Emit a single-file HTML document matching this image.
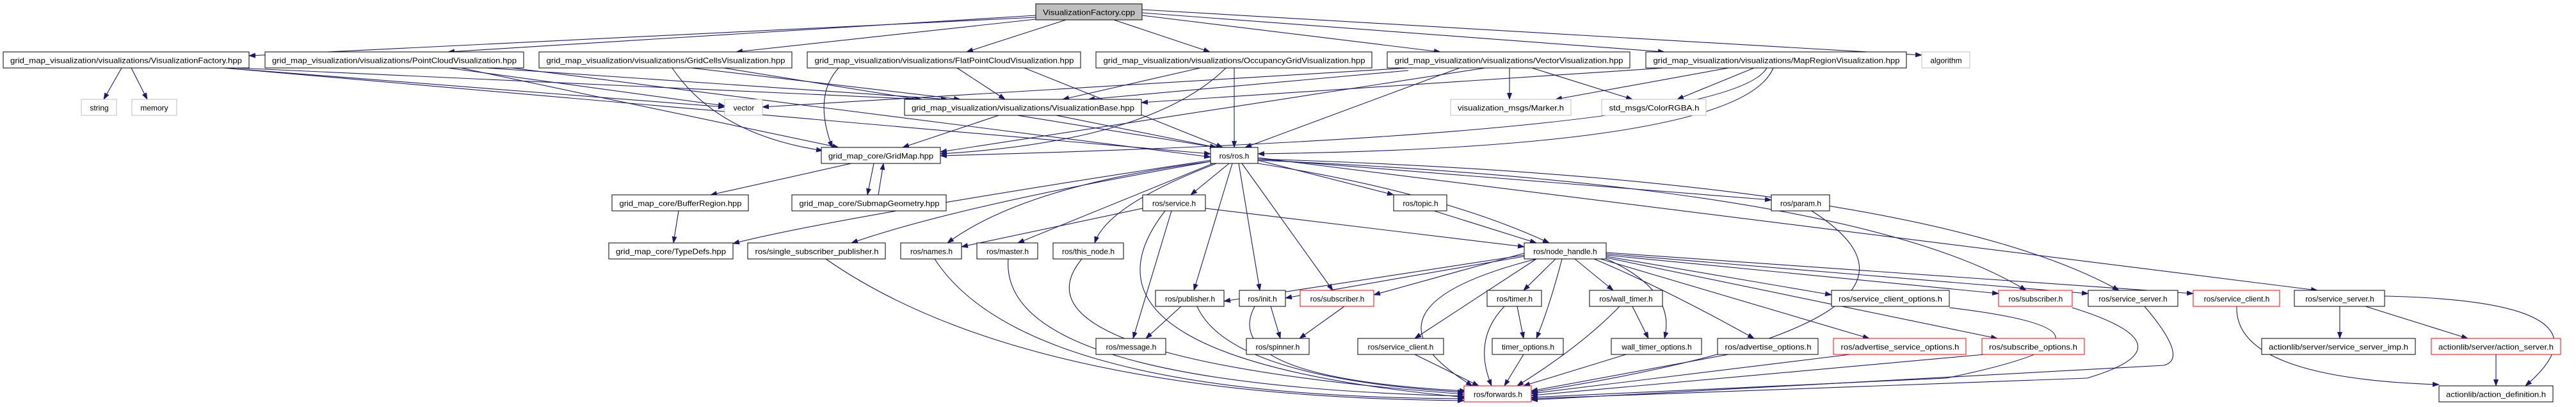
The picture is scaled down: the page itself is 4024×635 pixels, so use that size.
<!DOCTYPE html>
<html><head><meta charset="utf-8"><style>
html,body{margin:0;padding:0;background:#fff;width:4024px;height:635px;overflow:hidden}
svg{display:block}
.e{fill:none;stroke:#191970;stroke-width:1.1}
text{font-family:"Liberation Sans",sans-serif;font-size:12px;fill:#000;text-anchor:middle}
.n{fill:#fff;stroke:#000;stroke-width:1}
.g{fill:#fff;stroke:#bfbfbf;stroke-width:1}
.r{fill:#fff;stroke:#ff0000;stroke-width:1}
</style></head><body>
<svg width="4024" height="635" viewBox="0 0 4024 635" xmlns="http://www.w3.org/2000/svg">
<defs><marker id="a" markerWidth="11" markerHeight="8" refX="10" refY="4" orient="auto" markerUnits="userSpaceOnUse"><path d="M0,0 L11,4 L0,8 Z" fill="#191970"/></marker></defs>
<g class="e" marker-end="url(#a)">
<path d="M1618,27 L389,87"/><path d="M1618,24 L700,81"/><path d="M1618,30 L1150,81"/><path d="M1665,31 L1510,81"/>
<path d="M1740,31 L1890,81"/><path d="M1784,24 L2250,81"/><path d="M1784,20 L2600,81"/><path d="M1784,15 L3002,86"/>
<path d="M190,106 L162,155"/><path d="M205,106 L230,155"/><path d="M350,106 L1132,167"/><path d="M370,106 L1440,155"/><path d="M350,106 L1891,240"/>
<path d="M700,106 L1132,165"/><path d="M760,106 L1480,155"/><path d="M720,106 L1310,230"/><path d="M800,106 L1891,245"/>
<path d="M1050,106 Q1120,210 1285,235"/><path d="M1080,106 L1500,155"/><path d="M1130,106 L1900,230"/>
<path d="M1495,106 L1570,155"/><path d="M1310,106 Q1270,150 1300,230"/><path d="M1600,106 L1910,230"/>
<path d="M1875,106 L1660,155"/><path d="M1915,106 Q1800,220 1469,240"/><path d="M1928,106 L1928,230"/>
<path d="M2200,110 L1700,155"/><path d="M2320,106 L1469,237"/><path d="M2280,106 L1945,230"/><path d="M2358,106 L2358,155"/><path d="M2393,106 L2550,155"/><path d="M2200,106 L1191,167"/>
<path d="M2600,106 L1783,160"/><path d="M2760,106 Q2700,210 1469,243"/><path d="M2770,106 Q2720,230 1965,240"/><path d="M2700,106 L2430,155"/><path d="M2740,106 L2620,155"/>
<path d="M1560,180 L1410,230"/><path d="M1650,180 L1900,230"/>
<path d="M1330,255 L1110,304"/><path d="M1365,255 L1355,304"/><path d="M1372,304 L1380,255"/>
<path d="M1060,329 L1052,379"/>
<path d="M1920,255 L1860,304"/><path d="M1891,252 Q1600,290 1480,379"/><path d="M1895,255 L1590,379"/><path d="M1900,255 Q1730,320 1710,379"/>
<path d="M1925,255 L1865,453"/><path d="M1935,255 L1968,453"/><path d="M1940,255 L2082,453"/><path d="M1965,250 L2177,304"/>
<path d="M1965,255 Q2250,300 2420,379"/><path d="M1965,248 L2767,312"/><path d="M1965,250 Q2900,290 3165,453"/><path d="M1965,248 Q3000,280 3310,453"/><path d="M1965,246 L3620,453"/>
<path d="M1891,250 Q1300,340 1145,380"/><path d="M1891,252 Q1500,320 1330,379"/>
<path d="M1785,325 L1502,385"/><path d="M1830,329 L1770,528"/><path d="M1820,329 Q1640,560 2290,620"/><path d="M1883,325 L2381,385"/>
<path d="M2240,329 L2400,379"/>
<path d="M1460,404 Q1600,620 2287,622"/><path d="M1575,404 Q1560,600 2287,618"/><path d="M1690,404 Q1560,560 2287,615"/><path d="M1290,404 Q1600,620 2287,625"/><path d="M2830,329 Q3100,500 2392,612"/>
<path d="M2381,395 L2146,460"/><path d="M2430,404 L2380,453"/><path d="M2440,404 Q2420,480 2400,528"/><path d="M2460,404 L2520,453"/><path d="M2500,400 Q2620,450 2600,528"/>
<path d="M2400,404 L2210,528"/><path d="M2490,404 Q2600,450 2740,528"/><path d="M2500,404 L2920,528"/><path d="M2509,402 L3120,528"/><path d="M2509,400 L2861,460"/>
<path d="M2509,398 L3122,458"/><path d="M2509,396 L3262,458"/><path d="M2509,394 L3426,458"/><path d="M2381,398 L1912,470"/><path d="M2381,400 L2008,465"/><path d="M2400,404 Q2100,480 2300,602"/>
<path d="M1845,478 L1790,528"/><path d="M1870,478 Q1920,590 2287,612"/><path d="M1985,478 L2000,528"/><path d="M1960,478 Q1900,590 2290,610"/><path d="M2100,478 L2030,528"/>
<path d="M2370,478 L2380,528"/><path d="M2350,478 Q2300,530 2330,602"/><path d="M2550,478 L2575,528"/><path d="M2530,478 Q2470,540 2370,602"/>
<path d="M2380,553 L2350,602"/><path d="M2540,553 L2380,602"/><path d="M2210,553 L2310,602"/><path d="M2700,553 L2392,610"/><path d="M2890,553 L2392,614"/><path d="M3100,553 L2392,617"/>
<path d="M3045,480 Q3380,520 3040,590 L2392,620"/><path d="M3237,480 Q3430,540 3260,590 L2392,622"/><path d="M3350,478 Q3420,560 3380,570 L2392,624"/>
<path d="M3655,478 L3655,528"/><path d="M3695,478 L3855,528"/><path d="M3725,462 Q4100,470 3945,602"/><path d="M3494,478 Q3490,590 3810,600"/><path d="M3899,553 L3899,602"/>
</g>
<g>
<rect x="1618" y="6" width="166" height="25" fill="#bfbfbf" stroke="#000"/><text x="1701" y="23.5" textLength="144" lengthAdjust="spacingAndGlyphs">VisualizationFactory.cpp</text>
<rect class="n" x="5" y="81" width="384" height="25"/><text x="197" y="98.5" textLength="362" lengthAdjust="spacingAndGlyphs">grid_map_visualization/visualizations/VisualizationFactory.hpp</text>
<rect class="n" x="414" y="81" width="404" height="25"/><text x="616" y="98.5" textLength="382" lengthAdjust="spacingAndGlyphs">grid_map_visualization/visualizations/PointCloudVisualization.hpp</text>
<rect class="n" x="842" y="81" width="395" height="25"/><text x="1040" y="98.5" textLength="373" lengthAdjust="spacingAndGlyphs">grid_map_visualization/visualizations/GridCellsVisualization.hpp</text>
<rect class="n" x="1261" y="81" width="427" height="25"/><text x="1475" y="98.5" textLength="405" lengthAdjust="spacingAndGlyphs">grid_map_visualization/visualizations/FlatPointCloudVisualization.hpp</text>
<rect class="n" x="1712" y="81" width="431" height="25"/><text x="1928" y="98.5" textLength="409" lengthAdjust="spacingAndGlyphs">grid_map_visualization/visualizations/OccupancyGridVisualization.hpp</text>
<rect class="n" x="2167" y="81" width="379" height="25"/><text x="2357" y="98.5" textLength="357" lengthAdjust="spacingAndGlyphs">grid_map_visualization/visualizations/VectorVisualization.hpp</text>
<rect class="n" x="2571" y="81" width="407" height="25"/><text x="2775" y="98.5" textLength="385" lengthAdjust="spacingAndGlyphs">grid_map_visualization/visualizations/MapRegionVisualization.hpp</text>
<rect class="g" x="3002" y="81" width="75" height="25"/><text x="3040" y="98.5">algorithm</text>
<rect class="g" x="127" y="155" width="55" height="25"/><text x="155" y="172.5">string</text>
<rect class="g" x="206" y="155" width="70" height="25"/><text x="241" y="172.5">memory</text>
<rect class="g" x="1132" y="155" width="59" height="25"/><text x="1162" y="172.5">vector</text>
<rect class="n" x="1413" y="155" width="370" height="25"/><text x="1598" y="172.5" textLength="348" lengthAdjust="spacingAndGlyphs">grid_map_visualization/visualizations/VisualizationBase.hpp</text>
<rect class="g" x="2266" y="155" width="188" height="25"/><text x="2360" y="172.5" textLength="166" lengthAdjust="spacingAndGlyphs">visualization_msgs/Marker.h</text>
<rect class="g" x="2502" y="155" width="163" height="25"/><text x="2584" y="172.5" textLength="141" lengthAdjust="spacingAndGlyphs">std_msgs/ColorRGBA.h</text>
<rect class="n" x="1283" y="230" width="186" height="25"/><text x="1376" y="247.5" textLength="164" lengthAdjust="spacingAndGlyphs">grid_map_core/GridMap.hpp</text>
<rect class="n" x="1891" y="230" width="74" height="25"/><text x="1928" y="247.5">ros/ros.h</text>
<rect class="n" x="956" y="304" width="213" height="25"/><text x="1063" y="321.5" textLength="191" lengthAdjust="spacingAndGlyphs">grid_map_core/BufferRegion.hpp</text>
<rect class="n" x="1237" y="304" width="241" height="25"/><text x="1358" y="321.5" textLength="219" lengthAdjust="spacingAndGlyphs">grid_map_core/SubmapGeometry.hpp</text>
<rect class="n" x="1785" y="304" width="98" height="25"/><text x="1834" y="321.5">ros/service.h</text>
<rect class="n" x="2177" y="304" width="83" height="25"/><text x="2219" y="321.5">ros/topic.h</text>
<rect class="n" x="2767" y="304" width="91" height="25"/><text x="2813" y="321.5">ros/param.h</text>
<rect class="n" x="951" y="379" width="194" height="25"/><text x="1048" y="396.5" textLength="172" lengthAdjust="spacingAndGlyphs">grid_map_core/TypeDefs.hpp</text>
<rect class="n" x="1168" y="379" width="215" height="25"/><text x="1276" y="396.5" textLength="193" lengthAdjust="spacingAndGlyphs">ros/single_subscriber_publisher.h</text>
<rect class="n" x="1407" y="379" width="95" height="25"/><text x="1455" y="396.5">ros/names.h</text>
<rect class="n" x="1526" y="379" width="95" height="25"/><text x="1574" y="396.5">ros/master.h</text>
<rect class="n" x="1645" y="379" width="110" height="25"/><text x="1700" y="396.5">ros/this_node.h</text>
<rect class="n" x="2381" y="379" width="128" height="25"/><text x="2445" y="396.5">ros/node_handle.h</text>
<rect class="n" x="1805" y="453" width="107" height="25"/><text x="1859" y="470.5">ros/publisher.h</text>
<rect class="n" x="1936" y="453" width="72" height="25"/><text x="1972" y="470.5">ros/init.h</text>
<rect class="r" x="2031" y="453" width="115" height="25"/><text x="2089" y="470.5">ros/subscriber.h</text>
<rect class="n" x="2323" y="453" width="85" height="25"/><text x="2366" y="470.5">ros/timer.h</text>
<rect class="n" x="2483" y="453" width="114" height="25"/><text x="2540" y="470.5">ros/wall_timer.h</text>
<rect class="n" x="2861" y="453" width="184" height="25"/><text x="2953" y="470.5" textLength="162" lengthAdjust="spacingAndGlyphs">ros/service_client_options.h</text>
<rect class="r" x="3122" y="453" width="115" height="25"/><text x="3180" y="470.5">ros/subscriber.h</text>
<rect class="n" x="3262" y="453" width="140" height="25"/><text x="3332" y="470.5">ros/service_server.h</text>
<rect class="r" x="3426" y="453" width="135" height="25"/><text x="3494" y="470.5">ros/service_client.h</text>
<rect class="n" x="3584" y="453" width="141" height="25"/><text x="3655" y="470.5">ros/service_server.h</text>
<rect class="n" x="1712" y="528" width="109" height="25"/><text x="1767" y="545.5">ros/message.h</text>
<rect class="n" x="1947" y="528" width="98" height="25"/><text x="1996" y="545.5">ros/spinner.h</text>
<rect class="n" x="2121" y="528" width="134" height="25"/><text x="2188" y="545.5">ros/service_client.h</text>
<rect class="n" x="2331" y="528" width="111" height="25"/><text x="2387" y="545.5">timer_options.h</text>
<rect class="n" x="2517" y="528" width="141" height="25"/><text x="2588" y="545.5">wall_timer_options.h</text>
<rect class="n" x="2683" y="528" width="157" height="25"/><text x="2762" y="545.5" textLength="135" lengthAdjust="spacingAndGlyphs">ros/advertise_options.h</text>
<rect class="r" x="2864" y="528" width="207" height="25"/><text x="2968" y="545.5" textLength="185" lengthAdjust="spacingAndGlyphs">ros/advertise_service_options.h</text>
<rect class="r" x="3096" y="528" width="160" height="25"/><text x="3176" y="545.5" textLength="138" lengthAdjust="spacingAndGlyphs">ros/subscribe_options.h</text>
<rect class="n" x="3533" y="528" width="240" height="25"/><text x="3653" y="545.5" textLength="218" lengthAdjust="spacingAndGlyphs">actionlib/server/service_server_imp.h</text>
<rect class="r" x="3798" y="528" width="202" height="25"/><text x="3899" y="545.5" textLength="180" lengthAdjust="spacingAndGlyphs">actionlib/server/action_server.h</text>
<rect class="r" x="2287" y="602" width="105" height="25"/><text x="2340" y="619.5">ros/forwards.h</text>
<rect class="n" x="3810" y="602" width="178" height="25"/><text x="3899" y="619.5" textLength="156" lengthAdjust="spacingAndGlyphs">actionlib/action_definition.h</text>
</g>
</svg>
</body></html>
